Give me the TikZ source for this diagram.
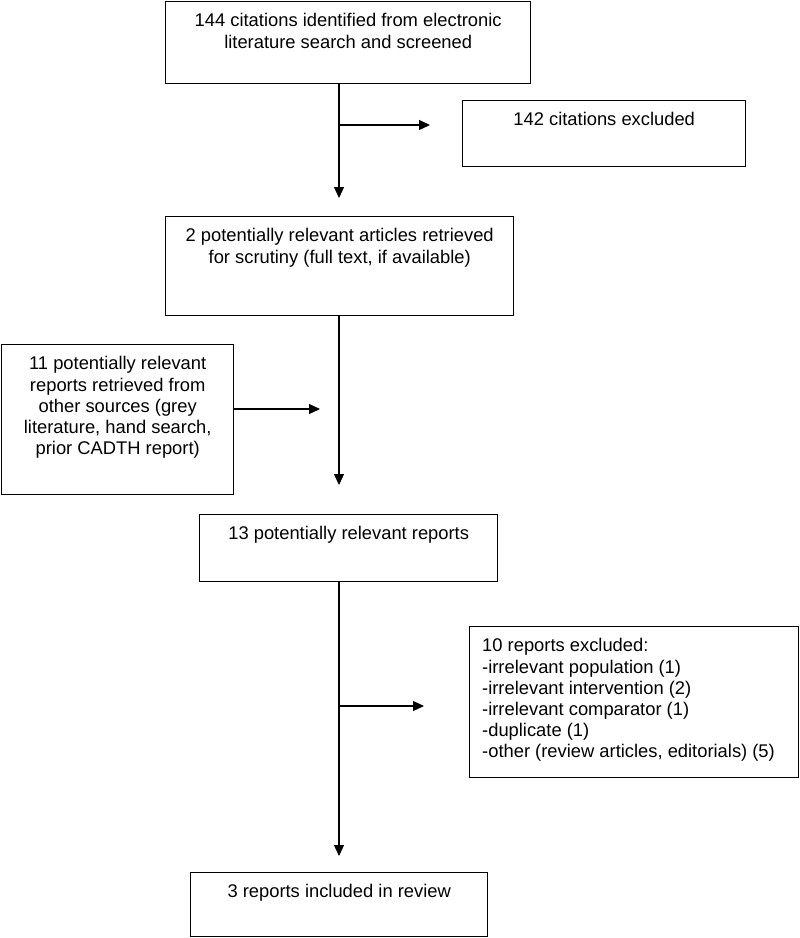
\documentclass[tikz,border=0pt]{standalone}
\usepackage{fontspec}
\setmainfont{Liberation Sans}
\usetikzlibrary{arrows.meta}
\begin{document}
\begin{tikzpicture}[x=1pt,y=-1pt,
  box/.style={draw=black, line width=1.4pt, rectangle, inner sep=0pt, anchor=north west},
  txt/.style={anchor=north, inner sep=0pt, align=center, font=\fontsize{18.35}{21.2}\selectfont},
  conn/.style={line width=1.2pt, -{Triangle[length=11pt,width=10pt]}}
]
\useasboundingbox (0,0) rectangle (800,938);

\node[box, minimum width=365pt, minimum height=82pt] (b1) at (165,1) {};
\node[box, minimum width=283pt, minimum height=66pt] (b2) at (462,100) {};
\node[box, minimum width=348pt, minimum height=99pt] (b3) at (165,216) {};
\node[box, minimum width=232pt, minimum height=150pt] (b4) at (1,344) {};
\node[box, minimum width=298pt, minimum height=67pt] (b5) at (199,514) {};
\node[box, minimum width=329pt, minimum height=151pt] (b6) at (469,626) {};
\node[box, minimum width=297pt, minimum height=64pt] (b7) at (190,872) {};

\node[txt] (t1) at ([yshift=-12.3pt]b1.north) {144 citations identified from electronic\\literature search and screened};
\node[txt] (t2) at ([yshift=-12.3pt]b2.north) {142 citations excluded};
\node[txt] (t3) at ([yshift=-12.3pt]b3.north) {2 potentially relevant articles retrieved\\for scrutiny (full text, if available)};
\node[txt] (t4) at ([yshift=-12.3pt]b4.north) {11 potentially relevant\\reports retrieved from\\other sources (grey\\literature, hand search,\\prior CADTH report)};
\node[txt] (t5) at ([yshift=-12.3pt]b5.north) {13 potentially relevant reports};
\node[txt, anchor=north west, align=left] (t6) at ([xshift=13pt,yshift=-12.3pt]b6.north west) {10 reports excluded:\\-irrelevant population (1)\\-irrelevant intervention (2)\\-irrelevant comparator (1)\\-duplicate (1)\\-other (review articles, editorials) (5)};
\node[txt] (t7) at ([yshift=-12.3pt]b7.north) {3 reports included in review};

\coordinate (a1) at (339,198);
\coordinate (h1s) at (339,125);
\coordinate (h1e) at (430,125);
\coordinate (a2) at (339,485);
\coordinate (h2e) at (320,409);
\coordinate (a3) at (339,856);
\coordinate (h3s) at (339,706);
\coordinate (h3e) at (424,706);

\draw[conn] (b1.south -| a1) -- (a1);
\draw[conn] (h1s) -- (h1e);
\draw[conn] (b3.south -| a2) -- (a2);
\draw[conn] (b4.east |- h2e) -- (h2e);
\draw[conn] (b5.south -| a3) -- (a3);
\draw[conn] (h3s) -- (h3e);
\end{tikzpicture}
\end{document}
